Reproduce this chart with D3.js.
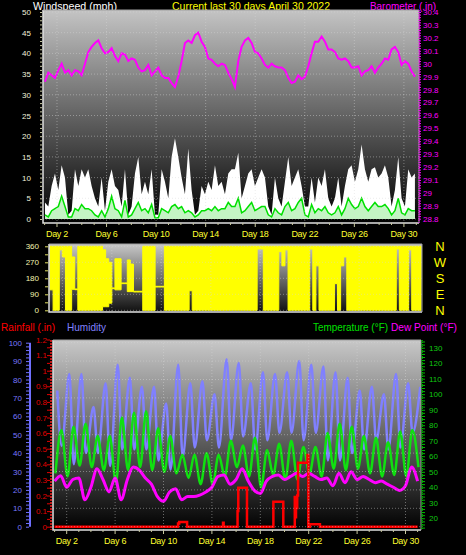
<!DOCTYPE html>
<html>
<head>
<meta charset="utf-8">
<script src="https://cdn.jsdelivr.net/npm/d3@7"></script>
<style>
    html, body { margin: 0; padding: 0; background: #000; }
    svg { display: block; font-family: "Liberation Sans", Arial, sans-serif; }
</style>
</head>
<body>
<svg id="chart" width="466" height="555"></svg>
<script>
// ---- ticks / labels ----
const dayTicks = [2, 6, 10, 14, 18, 22, 26, 30];
const windTicks = [0, 5, 10, 15, 20, 25, 30, 35, 40, 45, 50];
const baroTicks = [28.8, 28.9, 29.0, 29.1, 29.2, 29.3, 29.4, 29.5, 29.6, 29.7, 29.8, 29.9, 30.0, 30.1, 30.2, 30.3, 30.4];
const dirTicks = [0, 90, 180, 270, 360];
const compassLabels = ["N", "E", "S", "W", "N"];
const humTicks = [0, 10, 20, 30, 40, 50, 60, 70, 80, 90, 100];
const rainTicks = [0, 0.1, 0.2, 0.3, 0.4, 0.5, 0.6, 0.7, 0.8, 0.9, 1.0, 1.1, 1.2];
const tempTicks = [20, 30, 40, 50, 60, 70, 80, 90, 100, 110, 120, 130];

// ---- wind + barometer: one reading about every 6.5 h, day-of-month ----
const sampleStart = 1.03;
const sampleStep = 0.269;
const gust = [
    4, 3, 8, 11, 7, 13, 10, 1, 2, 12,
    8, 12, 10, 12, 8, 5, 3, 10, 2, 9,
    12, 8, 7, 3, 12, 1, 3, 11, 15, 6,
    9, 6, 12, 1, 1, 12, 9, 5, 15, 19.5,
    15, 10, 6, 17, 7, 1, 2, 8, 6, 9,
    7, 13, 8, 9, 6, 11, 12, 12, 16, 5,
    8, 11, 12, 8, 10, 12, 10, 3, 1, 10,
    5, 3, 9, 15, 8, 10, 12, 8, 3, 3,
    10, 4, 10, 8, 12, 5, 3, 5, 10, 3,
    8, 12, 13, 9, 12, 18, 12, 9, 12, 12.5,
    10, 11, 13, 10, 3, 7, 15, 5, 3, 12,
    10, 11
];
const windAvg = [
    1, 0.5, 2, 2.5, 3, 5.5, 3, 0.5, 0.5, 2.5,
    2, 3.5, 2.5, 2.5, 2, 1, 0.5, 2, 0.5, 2.5,
    5.5, 2.5, 2, 0.5, 4.5, 0.5, 1, 2.5, 4, 2,
    2.5, 1.5, 3.5, 0.3, 0.3, 2.5, 2, 1.5, 3, 3.5,
    2.5, 3, 1.5, 2, 1.5, 0.5, 1, 2, 2, 2.5,
    2, 3, 2, 2.5, 2.5, 4, 3, 3, 5, 1.5,
    2, 3, 4, 2, 2.5, 3, 3, 1, 0.5, 2.5,
    1.5, 1, 3, 4, 2, 2.5, 4, 5, 1, 0.5,
    3.5, 1.5, 2.5, 2, 3, 1.5, 1, 1.5, 3, 1,
    2.5, 5, 3.5, 2.5, 3, 5, 3, 2, 3, 4,
    3, 3, 3.5, 2.5, 1, 2, 5, 1.5, 1, 2.5,
    2, 2
];
const barometer = [
    29.86, 29.93, 29.91, 29.89, 29.95, 30.00, 29.93, 29.95, 29.91, 29.95,
    29.94, 29.91, 30.00, 30.09, 30.13, 30.16, 30.18, 30.12, 30.08, 30.09,
    30.12, 30.06, 30.02, 30.08, 30.07, 30.02, 30.04, 30.03, 29.97, 29.94,
    29.95, 29.99, 29.91, 29.94, 29.97, 29.91, 29.89, 29.89, 29.85, 29.82,
    29.90, 30.02, 30.16, 30.18, 30.16, 30.22, 30.24, 30.17, 30.13, 30.04,
    30.03, 30.00, 29.98, 30.00, 29.99, 29.93, 29.88, 29.82, 30.02, 30.13,
    30.18, 30.20, 30.16, 30.09, 30.08, 30.04, 29.99, 29.97, 30.00, 29.98,
    29.97, 29.97, 29.95, 29.89, 29.85, 29.86, 29.91, 29.88, 29.90, 29.98,
    30.08, 30.17, 30.17, 30.21, 30.17, 30.11, 30.11, 30.09, 30.04, 30.03,
    30.04, 30.02, 29.97, 29.97, 29.98, 29.91, 29.94, 29.95, 29.98, 29.93,
    29.97, 30.00, 30.04, 30.03, 30.11, 30.13, 30.09, 29.99, 30.02, 30.00,
    29.94, 29.90
];

// ---- wind direction: lowest / highest bearing in each 6-hour bin ----
const dirLow = [
    115, 0, 0, 340, 300, 0, 0, 118,
    116, 0, 0, 0, 0, 0, 0, 0,
    0, 20, 20, 40, 122, 115, 115, 150,
    150, 105, 105, 103, 103, 103, 0, 0,
    0, 0, 131, 131, 131, 0, 0, 0,
    0, 0, 0, 0, 0, 110, 0, 0,
    0, 0, 0, 0, 0, 0, 0, 0,
    0, 0, 0, 0, 0, 0, 0, 0,
    0, 0, 0, 345, 345, 0, 0, 0,
    0, 0, 330, 250, 340, 0, 0, 0,
    0, 0, 0, 0, 345, 0, 250, 0,
    0, 0, 0, 0, 150, 0, 250, 300,
    0, 0, 0, 0, 0, 0, 0, 0,
    0, 0, 0, 0, 0, 0, 0, 0,
    345, 0, 0, 0, 340, 0, 0, 0
];
const dirHigh = [
    360, 360, 360, 360, 360, 360, 360, 300,
    120, 360, 360, 360, 360, 360, 360, 360,
    360, 340, 290, 270, 126, 290, 290, 154,
    154, 283, 260, 107, 107, 107, 360, 360,
    360, 360, 135, 135, 135, 360, 360, 360,
    360, 360, 360, 360, 360, 360, 360, 360,
    360, 360, 360, 360, 360, 360, 360, 360,
    360, 360, 360, 360, 360, 360, 360, 360,
    360, 360, 360, 360, 360, 360, 360, 360,
    360, 360, 360, 360, 360, 360, 360, 360,
    360, 360, 360, 360, 360, 360, 360, 360,
    360, 360, 360, 360, 360, 360, 360, 360,
    360, 360, 360, 360, 360, 360, 360, 360,
    360, 360, 360, 360, 360, 360, 360, 360,
    360, 360, 360, 360, 360, 360, 360, 360
];

// ---- temperature / humidity: daily lows and highs (Apr 1 .. May 1) ----
const tempLow = [49, 47, 54, 53, 51, 43, 51, 53, 51, 50, 49, 46, 42, 42, 47, 53, 47, 40, 48, 45, 45, 49, 47, 52, 51, 52, 49, 47, 48, 47, 53];
const tempHigh = [77, 79, 81, 73, 73, 85, 88, 89, 78, 73, 61, 61, 62, 61, 70, 67, 72, 64, 68, 70, 66, 66, 75, 81, 79, 73, 72, 69, 76, 77];
const humHigh = [74, 83, 83, 65, 78, 88, 81, 76, 76, 67, 88, 78, 79, 72, 91, 89, 78, 84, 83, 84, 90, 88, 87, 84, 81, 74, 76, 72, 83, 78, 76];
const humLow = [44, 34, 40, 40, 33, 42, 42, 42, 36, 31, 38, 43, 47, 43, 47, 49, 42, 47, 51, 51, 47, 51, 36, 36, 40, 42, 47, 42, 43, 51];
// dew point every 12 h from Apr 1 00:00
const dewPoint = [
    44, 47.5, 40, 45, 46, 32, 40, 52, 45, 37,
    46, 32, 44.7, 53, 51, 46, 42, 34, 31, 37,
    39, 32, 34, 34, 35, 37, 40, 47, 48, 42,
    45, 52, 44, 38, 36, 44, 47, 48, 45, 47,
    49, 47, 49, 47, 45, 46, 41, 49, 43, 50,
    45, 47, 45, 43, 44, 42, 40, 38, 41, 53,
    44
];
// daily rain total (resets at midnight)
const rainTimes = [1, 11.2, 11.3, 11.95, 14.92, 14.97, 16.12, 16.18, 16.9, 19.08, 19.9, 20.85, 20.9, 20.95, 21.05, 21.12, 21.9, 21.97, 22.1, 22.93, 31];
const rainTotals = [0, 0.02, 0.03, 0, 0.025, 0, 0.1, 0.25, 0, 0.16, 0, 0.19, 0.06, 0.12, 0.2, 0.41, 0.46, 0, 0.015, 0, 0];


class WeatherChart {
    constructor(svgId) {
        this.svg = d3.select(svgId);
        this.defs = this.svg.append("defs");
        // plot boxes
        this.top = {x0: 43, x1: 419, y0: 10, y1: 223};
        this.mid = {x0: 49, x1: 422, y0: 244, y1: 312};
        this.bot = {x0: 53, x1: 421, y0: 340, y1: 530};
    }

    init() {
        this.xTop = d3.scaleLinear().domain([1, 31]).range([44.6, 416.3]);
        this.xMid = d3.scaleLinear().domain([1, 31]).range([50, 421]);
        this.xBot = d3.scaleLinear().domain([1, 31]).range([54.6, 417.6]);
        this.yWind = d3.scaleLinear().domain([0, 50]).range([219, 12]);
        this.yBaro = d3.scaleLinear().domain([28.8, 30.4]).range([218.7, 12]);
        this.yDir = d3.scaleLinear().domain([0, 360]).range([310.3, 246.3]);
        this.yHum = d3.scaleLinear().domain([0, 100]).range([526.7, 342.7]);
        this.yRain = d3.scaleLinear().domain([0, 1.2]).range([526.7, 339.5]);
        this.yTemp = d3.scaleLinear().domain([20, 130]).range([518.3, 347.7]);

        this._drawTitles();
        this._drawTop();
        this._drawMid();
        this._drawBottom();
    }

    _panel(box, id, topColor, bottomColor) {
        const g = this.defs.append("linearGradient").attr("id", `bg-${id}`)
            .attr("x1", 0).attr("y1", 0).attr("x2", 0).attr("y2", 1);
        g.append("stop").attr("offset", "0%").attr("stop-color", topColor);
        g.append("stop").attr("offset", "100%").attr("stop-color", bottomColor);
        this.defs.append("clipPath").attr("id", `clip-${id}`)
            .append("rect")
            .attr("x", box.x0).attr("y", box.y0)
            .attr("width", box.x1 - box.x0).attr("height", box.y1 - box.y0);
        this.svg.append("rect")
            .attr("x", box.x0).attr("y", box.y0)
            .attr("width", box.x1 - box.x0).attr("height", box.y1 - box.y0)
            .style("fill", `url(#bg-${id})`);
        return this.svg.append("g").attr("clip-path", `url(#clip-${id})`);
    }

    _grid(box, x, y, yTicks) {
        const grid = this.svg.append("g")
            .style("stroke", "#d8d8d8").style("stroke-opacity", 0.45)
            .style("stroke-dasharray", "1,2").style("stroke-width", 1);
        grid.selectAll("line.v").data(dayTicks).join("line").attr("class", "v")
            .attr("x1", d => x(d)).attr("x2", d => x(d))
            .attr("y1", box.y0).attr("y2", box.y1);
        grid.selectAll("line.h").data(yTicks).join("line").attr("class", "h")
            .attr("x1", box.x0).attr("x2", box.x1)
            .attr("y1", d => y(d)).attr("y2", d => y(d));
    }

    _frame(box) {
        // light left / bottom edges, like the original
        this.svg.append("path")
            .attr("d", `M${box.x0},${box.y0}V${box.y1}H${box.x1}`)
            .style("fill", "none").style("stroke", "#e0e0e0").style("stroke-width", 1.5);
        this.svg.append("path")
            .attr("d", `M${box.x0},${box.y0}H${box.x1}V${box.y1}`)
            .style("fill", "none").style("stroke", "#a0a0a0").style("stroke-width", 1);
    }

    _dayLabels(x, y, box) {
        // day ticks along the bottom edge
        const days = d3.range(1, 32);
        this.svg.append("g").selectAll("line").data(days).join("line")
            .attr("x1", d => x(d)).attr("x2", d => x(d))
            .attr("y1", box.y1).attr("y2", d => box.y1 + (dayTicks.includes(d) ? 4 : 2))
            .style("stroke", "#c8c8a0").style("stroke-width", 1);
        this.svg.append("g").selectAll("text").data(dayTicks).join("text")
            .attr("x", d => x(d)).attr("y", y)
            .attr("text-anchor", "middle")
            .style("font-size", "9px").style("letter-spacing", "-0.3px")
            .style("fill", "#ffff30")
            .text(d => `Day ${d}`);
    }

    _axis(axis, tx, color, size) {
        const g = this.svg.append("g").attr("transform", `translate(${tx},0)`).call(axis);
        g.select(".domain").remove();
        g.selectAll("line").style("stroke", color);
        g.selectAll("text").style("fill", color).style("font-size", size || "8px")
            .style("font-family", "'Liberation Sans', Arial, sans-serif");
        return g;
    }

    _drawTitles() {
        const t = [
            {text: "Windspeed (mph)", x: 33, y: 9.5, w: 84, c: "#ffffff"},
            {text: "Current last 30 days April 30 2022", x: 172, y: 9.5, w: 158, c: "#ffff00"},
            {text: "Barometer (.in)", x: 370, y: 9.5, w: 66, c: "#ff00ff"},
            {text: "Rainfall (.in)", x: 1, y: 331, w: 54, c: "#ff0000"},
            {text: "Humidity", x: 67, y: 331, w: 39, c: "#8080ff"},
            {text: "Temperature (°F)", x: 313, y: 331, w: 75, c: "#00e000"},
            {text: "Dew Point (°F)", x: 391, y: 331, w: 66, c: "#ff00ff"}
        ];
        this.svg.append("g").selectAll("text").data(t).join("text")
            .attr("x", d => d.x).attr("y", d => d.y)
            .attr("textLength", d => d.w).attr("lengthAdjust", "spacingAndGlyphs")
            .style("font-size", "11px").style("fill", d => d.c)
            .text(d => d.text);
    }

    _drawTop() {
        const box = this.top;
        const x = this.xTop;
        const plot = this._panel(box, "top", "#c4c4c4", "#000000");
        this._grid(box, x, this.yWind, windTicks);

        const t = i => sampleStart + i * sampleStep;
        // gust (white)
        plot.append("path").datum(gust)
            .attr("d", d3.area().x((d, i) => x(t(i))).y0(this.yWind(0)).y1(d => this.yWind(d)))
            .style("fill", "#ffffff");
        // average speed
        plot.append("path").datum(windAvg)
            .attr("d", d3.area().x((d, i) => x(t(i))).y0(this.yWind(0)).y1(d => this.yWind(d)))
            .style("fill", "#c4f4c4");
        plot.append("path").datum(windAvg)
            .attr("d", d3.line().x((d, i) => x(t(i))).y(d => this.yWind(d)))
            .style("fill", "none").style("stroke", "#00e000").style("stroke-width", 1.5);
        // barometer
        plot.append("path").datum(barometer)
            .attr("d", d3.line().x((d, i) => x(t(i))).y(d => this.yBaro(d)))
            .style("fill", "none").style("stroke", "#ff00ff").style("stroke-width", 2);

        this._frame(box);

        // left wind axis
        this._axis(d3.axisLeft(this.yWind).tickValues(d3.range(0, 51, 1)).tickSize(2).tickFormat(""), box.x0 - 1, "#c8c8a0");
        this._axis(d3.axisLeft(this.yWind).tickValues(windTicks).tickSize(0).tickPadding(11), box.x0 - 1, "#f0f0dc");
        // right barometer axis
        this.svg.append("line")
            .attr("x1", box.x1).attr("x2", box.x1).attr("y1", box.y0).attr("y2", box.y1)
            .style("stroke", "#ff00ff").style("stroke-dasharray", "1,1");
        this._axis(d3.axisRight(this.yBaro).tickValues(d3.range(28.8, 30.41, 0.02)).tickSize(2).tickFormat(""), box.x1, "#ff00ff");
        this._axis(d3.axisRight(this.yBaro).tickValues(baroTicks).tickSize(0).tickPadding(4)
            .tickFormat(d => String(+d.toFixed(1))), box.x1, "#ff00ff");

        this._dayLabels(x, 237, box);
    }

    _drawMid() {
        const box = this.mid;
        const x = this.xMid;
        const plot = this._panel(box, "mid", "#c8c8c8", "#101010");
        this._grid(box, x, this.yDir, dirTicks);

        const bins = dirLow.map((lo, i) => ({t: 1 + i / 4, lo: lo, hi: dirHigh[i]}));
        bins.push({t: 31, lo: dirLow[dirLow.length - 1], hi: dirHigh[dirHigh.length - 1]});
        plot.append("path").datum(bins)
            .attr("d", d3.area().curve(d3.curveStepAfter)
                .x(d => x(d.t)).y0(d => this.yDir(d.lo)).y1(d => this.yDir(d.hi)))
            .style("fill", "#ffff00").style("stroke", "#ffff00").style("stroke-width", 1);

        this._frame(box);
        this._axis(d3.axisLeft(this.yDir).tickValues(d3.range(0, 361, 45)).tickSize(3).tickFormat(""), box.x0 - 1, "#e0e060");
        this._axis(d3.axisLeft(this.yDir).tickValues(dirTicks).tickSize(0).tickPadding(9), box.x0 - 1, "#f4f4b0");
        // compass letters on the right
        this.svg.append("g").selectAll("text").data(dirTicks).join("text")
            .attr("x", 440).attr("y", d => this.yDir(d) + 5)
            .attr("text-anchor", "middle")
            .style("font-size", "13px").style("fill", "#ffff00")
            .text((d, i) => compassLabels[i]);
    }

    _drawBottom() {
        const box = this.bot;
        const x = this.xBot;
        const plot = this._panel(box, "bot", "#c8c8c8", "#000000");
        this._grid(box, x, this.yHum, humTicks);

        const curve = d3.curveMonotoneX;
        // humidity
        const humPts = [];
        humHigh.forEach((v, i) => {
            humPts.push({t: 1 + i + 0.22, v: v});
            if (i < humLow.length) humPts.push({t: 1 + i + 0.58, v: humLow[i]});
        });
        plot.append("path").datum(humPts)
            .attr("d", d3.line().curve(curve).x(d => x(d.t)).y(d => this.yHum(d.v)))
            .style("fill", "none").style("stroke", "#8080ff").style("stroke-width", 2.5);
        // temperature
        const tempPts = [];
        tempLow.forEach((v, i) => {
            tempPts.push({t: 1 + i + 0.07, v: v});
            if (i < tempHigh.length) tempPts.push({t: 1 + i + 0.56, v: tempHigh[i]});
        });
        plot.append("path").datum(tempPts)
            .attr("d", d3.line().curve(curve).x(d => x(d.t)).y(d => this.yTemp(d.v)))
            .style("fill", "none").style("stroke", "#10e010").style("stroke-width", 2.5);
        // dew point
        plot.append("path").datum(dewPoint)
            .attr("d", d3.line().curve(curve).x((d, i) => x(1 + i * 0.5)).y(d => this.yTemp(d)))
            .style("fill", "none").style("stroke", "#ff00ff").style("stroke-width", 3);
        // rain
        const rainPts = rainTimes.map((t, i) => ({t: t, v: rainTotals[i]}));
        plot.append("path").datum(rainPts)
            .attr("d", d3.line().curve(d3.curveStepAfter).x(d => x(d.t)).y(d => this.yRain(d.v)))
            .style("fill", "none").style("stroke", "#ff0000").style("stroke-width", 2.5);

        this._frame(box);

        // humidity axis (outer left)
        this.svg.append("line").attr("x1", 30).attr("x2", 30)
            .attr("y1", this.yHum(100)).attr("y2", this.yHum(0))
            .style("stroke", "#7070ff").style("stroke-width", 2);
        this._axis(d3.axisLeft(this.yHum).tickValues(d3.range(0, 101, 2)).tickSize(3).tickFormat(""), 29, "#7070ff");
        this._axis(d3.axisLeft(this.yHum).tickValues(humTicks).tickSize(0).tickPadding(7), 29, "#7878ff");
        // rain axis
        this.svg.append("line").attr("x1", 51).attr("x2", 51)
            .attr("y1", box.y0).attr("y2", box.y1)
            .style("stroke", "#ff2020").style("stroke-width", 1.5).style("stroke-dasharray", "2,1");
        this._axis(d3.axisLeft(this.yRain).tickValues(d3.range(0, 1.21, 0.05)).tickSize(3).tickFormat(""), 50, "#e00000");
        this._axis(d3.axisLeft(this.yRain).tickValues(rainTicks).tickSize(0).tickPadding(3)
            .tickFormat(d => String(+d.toFixed(1))), 50, "#e00000");
        // temperature axis (right)
        this.svg.append("line").attr("x1", box.x1 + 1).attr("x2", box.x1 + 1)
            .attr("y1", box.y0).attr("y2", box.y1)
            .style("stroke", "#00c000").style("stroke-width", 1.5).style("stroke-dasharray", "1,1");
        this._axis(d3.axisRight(this.yTemp).tickValues(d3.range(14, 135, 2)).tickSize(3).tickFormat(""), box.x1 + 1, "#00c000");
        this._axis(d3.axisRight(this.yTemp).tickValues(tempTicks).tickSize(0).tickPadding(7), box.x1 + 1, "#10c810");

        this._dayLabels(x, 544, box);
    }
}

const chart = new WeatherChart("#chart");
chart.init();
</script>
</body>
</html>
